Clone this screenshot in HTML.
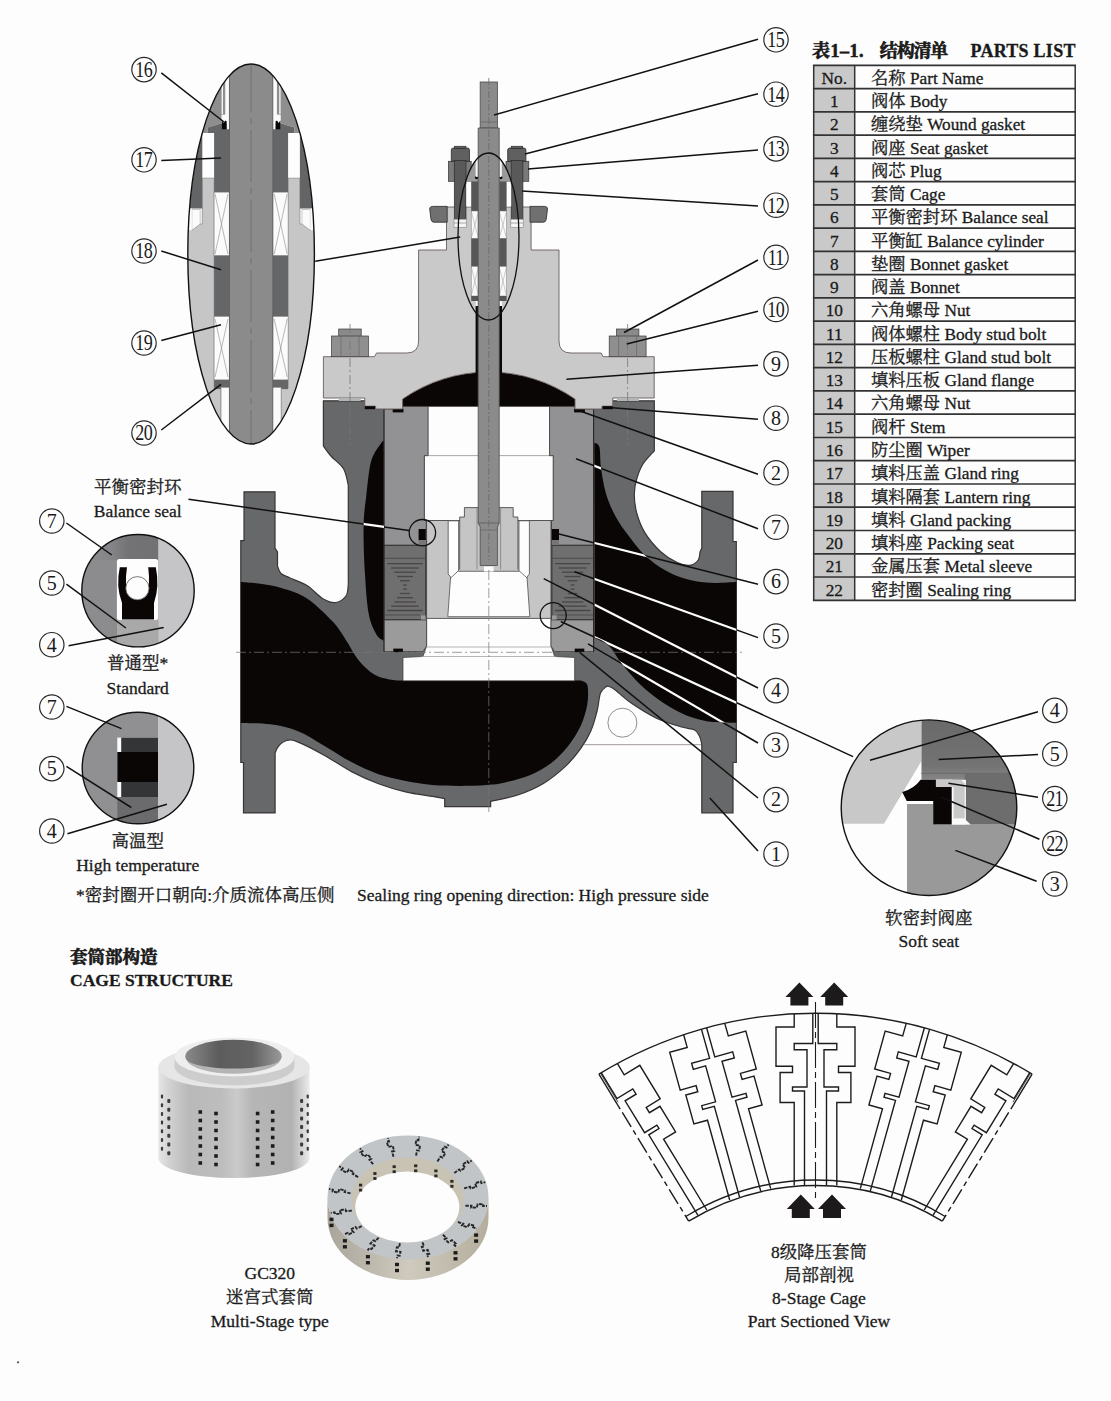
<!DOCTYPE html>
<html lang="zh">
<head>
<meta charset="utf-8">
<title>Parts List / Cage Structure</title>
<style>
html,body{margin:0;padding:0;background:#fdfdfd;}
body{width:1111px;height:1401px;overflow:hidden;position:relative;font-family:"Liberation Serif", "Noto Serif CJK SC", serif;}
svg{position:absolute;left:0;top:0;display:block;}
svg text{font-family:"Liberation Serif", "Noto Serif CJK SC", serif;fill:#1a1a1a;stroke:#1a1a1a;stroke-width:0.3px;}
</style>
</head>
<body>
<svg width="1111" height="1401" viewBox="0 0 1111 1401">
<rect x="0" y="0" width="1111" height="1401" fill="#fdfdfd"/>
<defs>
<g id="blkshapes"><path d="M240.8 582.0C244.3 582.3 255.2 583.0 262.0 584.0C268.8 585.0 273.9 585.6 281.4 588.0C288.9 590.4 298.4 592.8 307.0 598.4C315.6 604.0 326.3 614.8 332.7 621.6C339.1 628.5 341.3 633.1 345.6 639.5C349.9 645.9 353.7 654.2 358.4 660.0C363.1 665.8 368.6 671.0 373.8 674.2C379.0 677.4 384.4 678.3 389.3 679.4C394.2 680.5 401.0 680.4 403.4 680.6L581.0 680.6C581.9 681.1 585.3 681.9 586.5 683.5C587.7 685.1 587.9 686.3 588.0 690.0C588.1 693.7 588.3 699.6 587.1 705.6C585.9 711.6 583.9 719.1 580.8 725.8C577.6 732.5 573.2 739.7 568.2 746.0C563.2 752.3 556.9 758.8 550.6 763.6C544.3 768.4 538.0 771.9 530.4 775.0C522.8 778.1 512.5 780.8 505.2 782.5C497.9 784.2 494.1 784.4 486.5 785.0C478.9 785.6 468.5 785.9 459.5 785.9C450.5 785.9 441.5 785.8 432.5 785.0C423.5 784.2 414.5 782.8 405.5 781.0C396.5 779.2 387.5 777.4 378.5 774.3C369.5 771.1 360.5 766.8 351.5 762.1C342.5 757.4 333.5 751.1 324.5 745.9C315.5 740.7 306.5 734.6 297.5 731.0C288.5 727.4 279.9 725.6 270.5 724.3C261.1 723.0 245.8 723.2 240.8 723.0Z"/><path d="M384.0 441.0C383.6 441.3 383.4 439.7 381.3 443.0C379.2 446.3 373.7 452.1 371.2 461.0C368.7 469.9 367.5 485.4 366.2 496.4C364.9 507.3 363.8 514.0 363.6 526.7C363.4 539.4 364.0 558.2 364.9 572.7C365.8 587.2 366.8 603.5 368.7 613.8C370.6 624.1 373.8 629.9 376.4 634.4C378.9 638.9 382.7 639.7 384.0 640.8Z"/><path d="M594.3 442.7C595.1 443.4 598.3 442.8 599.4 447.0C600.5 451.2 599.9 460.0 601.0 467.8C602.1 475.6 603.6 485.6 606.0 493.7C608.4 501.8 611.8 509.4 615.6 516.4C619.4 523.4 623.7 529.3 628.6 535.8C633.5 542.3 638.8 549.6 644.8 555.3C650.8 561.0 657.5 565.9 664.3 569.8C671.0 573.7 677.8 576.6 685.3 578.8C692.8 581.0 701.1 582.3 709.6 582.8C718.1 583.3 731.8 582.1 736.3 582.0L736.3 722.7C731.4 722.5 715.9 722.8 706.8 721.2C697.7 719.6 690.0 717.1 681.6 713.2C673.2 709.3 664.0 703.5 656.4 698.0C648.8 692.5 642.1 686.3 636.2 680.4C630.3 674.5 625.3 668.2 621.1 662.8C616.9 657.4 614.0 651.6 611.0 648.0C608.0 644.4 605.7 642.7 603.0 641.0C600.3 639.3 596.1 638.2 594.7 637.6Z"/><path d="M402.6 399A151 151 0 0 1 575 399L575 406.4L402.6 406.4Z"/><rect x="476" y="318" width="25.6" height="56"/></g>
<clipPath id="blkclip"><path d="M240.8 582.0C244.3 582.3 255.2 583.0 262.0 584.0C268.8 585.0 273.9 585.6 281.4 588.0C288.9 590.4 298.4 592.8 307.0 598.4C315.6 604.0 326.3 614.8 332.7 621.6C339.1 628.5 341.3 633.1 345.6 639.5C349.9 645.9 353.7 654.2 358.4 660.0C363.1 665.8 368.6 671.0 373.8 674.2C379.0 677.4 384.4 678.3 389.3 679.4C394.2 680.5 401.0 680.4 403.4 680.6L581.0 680.6C581.9 681.1 585.3 681.9 586.5 683.5C587.7 685.1 587.9 686.3 588.0 690.0C588.1 693.7 588.3 699.6 587.1 705.6C585.9 711.6 583.9 719.1 580.8 725.8C577.6 732.5 573.2 739.7 568.2 746.0C563.2 752.3 556.9 758.8 550.6 763.6C544.3 768.4 538.0 771.9 530.4 775.0C522.8 778.1 512.5 780.8 505.2 782.5C497.9 784.2 494.1 784.4 486.5 785.0C478.9 785.6 468.5 785.9 459.5 785.9C450.5 785.9 441.5 785.8 432.5 785.0C423.5 784.2 414.5 782.8 405.5 781.0C396.5 779.2 387.5 777.4 378.5 774.3C369.5 771.1 360.5 766.8 351.5 762.1C342.5 757.4 333.5 751.1 324.5 745.9C315.5 740.7 306.5 734.6 297.5 731.0C288.5 727.4 279.9 725.6 270.5 724.3C261.1 723.0 245.8 723.2 240.8 723.0Z"/><path d="M384.0 441.0C383.6 441.3 383.4 439.7 381.3 443.0C379.2 446.3 373.7 452.1 371.2 461.0C368.7 469.9 367.5 485.4 366.2 496.4C364.9 507.3 363.8 514.0 363.6 526.7C363.4 539.4 364.0 558.2 364.9 572.7C365.8 587.2 366.8 603.5 368.7 613.8C370.6 624.1 373.8 629.9 376.4 634.4C378.9 638.9 382.7 639.7 384.0 640.8Z"/><path d="M594.3 442.7C595.1 443.4 598.3 442.8 599.4 447.0C600.5 451.2 599.9 460.0 601.0 467.8C602.1 475.6 603.6 485.6 606.0 493.7C608.4 501.8 611.8 509.4 615.6 516.4C619.4 523.4 623.7 529.3 628.6 535.8C633.5 542.3 638.8 549.6 644.8 555.3C650.8 561.0 657.5 565.9 664.3 569.8C671.0 573.7 677.8 576.6 685.3 578.8C692.8 581.0 701.1 582.3 709.6 582.8C718.1 583.3 731.8 582.1 736.3 582.0L736.3 722.7C731.4 722.5 715.9 722.8 706.8 721.2C697.7 719.6 690.0 717.1 681.6 713.2C673.2 709.3 664.0 703.5 656.4 698.0C648.8 692.5 642.1 686.3 636.2 680.4C630.3 674.5 625.3 668.2 621.1 662.8C616.9 657.4 614.0 651.6 611.0 648.0C608.0 644.4 605.7 642.7 603.0 641.0C600.3 639.3 596.1 638.2 594.7 637.6Z"/><path d="M402.6 399A151 151 0 0 1 575 399L575 406.4L402.6 406.4Z"/><rect x="476" y="318" width="25.6" height="56"/></clipPath>
<clipPath id="ell2clip"><ellipse cx="488.5" cy="236.5" rx="30.5" ry="83.5"/></clipPath>
</defs>
<g id="valve">
<circle cx="622.4" cy="722.7" r="14.5" fill="none" stroke="#7a7070" stroke-width="0.8"/>
<line x1="584" y1="744.7" x2="702" y2="744.7" stroke="#8a8080" stroke-width="0.8"/>
<path d="M323.4 400.8L654.3 400.8L654.3 450.8C652.4 453.0 645.9 459.5 643.0 464.0C640.1 468.5 638.5 473.1 637.0 478.0C635.5 482.9 634.3 487.9 634.3 493.7C634.2 499.5 635.0 506.5 636.7 513.0C638.5 519.5 640.8 526.1 644.8 532.6C648.8 539.1 655.6 547.0 661.0 552.0C666.4 557.0 672.4 560.4 677.2 562.6C682.0 564.8 686.5 565.7 690.0 565.3C693.5 564.9 696.6 562.2 698.3 560.0C700.0 557.8 699.7 553.3 700.0 552.0L701.8 548.0L701.8 491.3L733.0 491.3L733.0 541.5L736.3 541.5L736.3 762.5L733.0 762.5L733.0 812.8L701.8 812.8L701.8 744.0C701.4 742.6 700.6 738.2 699.3 735.8C698.0 733.4 697.2 731.3 694.2 729.8C691.2 728.3 687.9 728.9 681.6 727.0C675.3 725.1 664.8 722.2 656.4 718.2C648.0 714.2 638.3 708.0 631.2 703.1C624.1 698.2 618.0 691.9 614.0 689.0C610.0 686.1 608.2 686.5 607.0 686.0C605.9 687.2 602.1 688.9 600.5 693.0C598.9 697.1 598.8 704.3 597.2 710.6C595.6 716.9 593.6 724.5 590.9 730.8C588.2 737.1 585.0 742.5 580.8 748.4C576.6 754.3 572.0 760.2 565.7 766.1C559.4 772.0 551.0 778.9 543.0 783.7C535.0 788.5 526.5 792.0 517.8 795.0C509.1 798.0 495.1 800.3 490.6 801.4L490.6 806.7L444.7 806.7L444.7 798.6C442.7 798.2 439.0 797.5 432.5 796.4C426.0 795.3 414.5 793.9 405.5 791.8C396.5 789.7 387.5 787.1 378.5 783.7C369.5 780.3 360.5 776.3 351.5 771.6C342.5 766.9 333.5 760.4 324.5 755.4C315.5 750.4 303.8 744.4 297.5 741.9C291.2 739.4 289.8 739.8 286.7 740.5C283.6 741.2 280.5 743.9 278.6 746.0C276.7 748.1 275.7 751.8 275.1 753.0L275.1 812.9L243.5 812.9L243.5 762.5L240.8 762.5L240.8 540.6L244.0 540.6L244.0 491.8L275.0 491.8L275.0 548.0L277.5 552.0L277.5 566.0C278.1 567.2 278.9 571.5 281.0 573.5C283.1 575.5 285.7 576.0 290.0 578.0C294.3 580.0 301.6 582.2 307.0 585.6C312.4 589.0 317.8 595.6 322.5 598.4C327.2 601.2 331.4 602.9 335.3 602.5C339.2 602.1 343.8 598.9 346.0 596.0C348.2 593.1 347.9 586.8 348.3 585.0L348.3 485.0C347.5 482.3 346.4 473.5 343.5 468.7C340.6 463.9 334.2 459.8 330.9 456.0C327.5 452.2 324.6 447.7 323.4 446.0Z" fill="#67686a" stroke="#393535" stroke-width="1.2"/>
<use href="#blkshapes" fill="#0b0606"/>
<path d="M428.0 406.4L428.0 455.6L424.3 455.6L424.3 520.5L426.6 520.5L426.6 646.0L423.0 656.5L403.0 657.5L403.0 680.8L574.6 680.8L574.6 657.5L554.6 656.5L551.0 646.0L551.0 520.5L553.3 520.5L553.3 455.6L549.6 455.6L549.6 406.4Z" fill="#fdfdfd" stroke="#3e3a3a" stroke-width="0.7"/>
<line x1="424.3" y1="455.6" x2="553.3" y2="455.6" stroke="#8a8484" stroke-width="0.7"/>
<line x1="424.3" y1="520.5" x2="553.3" y2="520.5" stroke="#8a8484" stroke-width="0.7"/>
<line x1="423" y1="647" x2="554.6" y2="647" stroke="#9a9494" stroke-width="0.7"/>
<line x1="421" y1="656.5" x2="556.6" y2="656.5" stroke="#9a9494" stroke-width="0.7"/>
<g id="cageL">
<path d="M384 409L402.6 409L402.6 406.4L428 406.4L428 455.6L424.3 455.6L424.3 520.5L426.2 520.5L426.2 545L384 545Z" fill="#929295" stroke="#3e3a3a" stroke-width="0.7"/>
<rect x="392.7" y="409" width="10.8" height="3.4" fill="#0b0606"/>
<rect x="418.6" y="529" width="7.2" height="11" fill="#0b0606"/>
<rect x="418.6" y="540" width="7.2" height="5" fill="#777"/>
<rect x="384" y="545.5" width="41.6" height="74" fill="#6f6f6f" stroke="#3a3434" stroke-width="0.8"/>
<line x1="387.3" y1="563.7" x2="422.7" y2="563.7" stroke="#484545" stroke-width="1.3"/>
<line x1="391.1" y1="568.0" x2="418.9" y2="568.0" stroke="#484545" stroke-width="1.3"/>
<line x1="394.3" y1="572.2" x2="415.7" y2="572.2" stroke="#484545" stroke-width="1.3"/>
<line x1="397.0" y1="576.5" x2="413.0" y2="576.5" stroke="#484545" stroke-width="1.3"/>
<line x1="400.2" y1="580.7" x2="409.8" y2="580.7" stroke="#484545" stroke-width="1.3"/>
<line x1="403.2" y1="585.0" x2="406.8" y2="585.0" stroke="#484545" stroke-width="1.3"/>
<line x1="403.2" y1="589.2" x2="406.8" y2="589.2" stroke="#484545" stroke-width="1.3"/>
<line x1="400.2" y1="593.5" x2="409.8" y2="593.5" stroke="#484545" stroke-width="1.3"/>
<line x1="397.0" y1="597.7" x2="413.0" y2="597.7" stroke="#484545" stroke-width="1.3"/>
<line x1="394.3" y1="602.0" x2="415.7" y2="602.0" stroke="#484545" stroke-width="1.3"/>
<line x1="391.1" y1="606.2" x2="418.9" y2="606.2" stroke="#484545" stroke-width="1.3"/>
<line x1="387.3" y1="610.5" x2="422.7" y2="610.5" stroke="#484545" stroke-width="1.3"/>
<line x1="384.5" y1="558.3" x2="425.3" y2="558.3" stroke="#504c4c" stroke-width="1"/>
<line x1="384.5" y1="615" x2="420" y2="615" stroke="#504c4c" stroke-width="1"/>
<rect x="421" y="615.5" width="4.6" height="4.5" fill="#9b9b9b"/>
<path d="M384 620L426.6 620L426.6 646L423 651.5L384 651.5Z" fill="#9b9b9b" stroke="#3e3a3a" stroke-width="0.7"/>
<rect x="393.3" y="648.6" width="9.6" height="3.6" fill="#0b0606"/>
<line x1="384" y1="409" x2="384" y2="652" stroke="#2a2424" stroke-width="1"/>
</g>
<use href="#cageL" transform="translate(977.6,0) scale(-1,1)"/>
<g id="plug">
<path d="M426.6 520.5L459.7 520.5L459.7 517L464.4 517L464.4 507.6L513.2 507.6L513.2 517L517.9 517L517.9 520.5L551 520.5L551 618.4L426.6 618.4Z" fill="#c5c5c5" stroke="#3e3a3a" stroke-width="0.8"/>
<path d="M458.6 571.3L458.6 520.8L448.2 520.8L448.2 574.0L450.6 577.0L447.8 616.7L529.8 616.7L527.0 577.0L529.4 574.0L529.4 520.8L519.0 520.8L519.0 571.3Z" fill="#fdfdfd" stroke="#3e3a3a" stroke-width="0.7"/>
<path d="M458.6 570.6L450.4 578.2M519 570.6L527.2 578.2" stroke="#3e3a3a" stroke-width="0.7" fill="none"/>
<line x1="459.7" y1="520.5" x2="459.7" y2="569.5" stroke="#3e3a3a" stroke-width="0.7"/>
<line x1="517.9" y1="520.5" x2="517.9" y2="569.5" stroke="#3e3a3a" stroke-width="0.7"/>
<line x1="477" y1="507.6" x2="477" y2="569.5" stroke="#7a7474" stroke-width="0.7"/>
<line x1="500.6" y1="507.6" x2="500.6" y2="569.5" stroke="#7a7474" stroke-width="0.7"/>
<rect x="484" y="566.5" width="9.6" height="5" fill="#fdfdfd"/>
</g>
<circle cx="422.4" cy="532.7" r="13.2" fill="none" stroke="#111" stroke-width="1.3"/>
<circle cx="553.2" cy="615.6" r="13" fill="none" stroke="#111" stroke-width="1.3"/>
<path d="M488.8 207L446.5 207L446.5 250L418.6 250L418.6 341Q418.6 353 406.6 353L376.5 353L374.5 356.7L323.4 356.7L323.4 398L364.8 398L364.8 406.2L375.6 406.2L375.6 409L402.6 409L402.6 399A151 151 0 0 1 575 399L575 409L602 409L602 406.2L612.8 406.2L612.8 398L654.2 398L654.2 356.7L603.1 356.7L601.1 353L571 353Q559 353 559 341L559 250L531.1 250L531.1 207Z" fill="#c9c9c9" stroke="#6a5c5c" stroke-width="0.9"/>
<rect x="364.8" y="406.2" width="10.2" height="3" fill="#0b0606"/>
<rect x="602.6" y="406.2" width="10.2" height="3" fill="#0b0606"/>
<g id="bnutL">
<rect x="338.7" y="329" width="22.5" height="8" fill="#8a8a8a" stroke="#3e3a3a" stroke-width="0.7"/>
<rect x="331.5" y="336" width="36.9" height="20.7" fill="#8f8f8f" stroke="#3e3a3a" stroke-width="0.7"/>
<line x1="341" y1="336" x2="341" y2="356.7" stroke="#6a6464" stroke-width="0.7"/>
<line x1="359" y1="336" x2="359" y2="356.7" stroke="#6a6464" stroke-width="0.7"/>
<rect x="338.7" y="398" width="22" height="3" fill="#b5b5b5"/>
<line x1="350" y1="324" x2="350" y2="446" stroke="#777" stroke-width="0.8" stroke-dasharray="9 3 2 3"/>
</g>
<use href="#bnutL" transform="translate(977.6,0) scale(-1,1)"/>
<g id="glandL">
<path d="M429.7 209Q429.7 206.4 432.5 206.4L447.2 206.4L447.2 222.2L434 222.2Q431.5 222.2 431 219.5Z" fill="#707070" stroke="#3a3434" stroke-width="0.9"/>
<rect x="448.4" y="161.3" width="22.8" height="20" fill="#7a7a7a" stroke="#3a3434" stroke-width="0.7"/>
<path d="M451.3 161.3L451.3 150Q451.3 148 453.5 148L467.3 148Q469.5 148 469.5 150L469.5 161.3Z" fill="#606060" stroke="#2f2a2a" stroke-width="0.8"/>
<rect x="454.5" y="146.2" width="11.5" height="2.2" fill="#5a5a5a" stroke="#2f2a2a" stroke-width="0.6"/>
<rect x="454.3" y="160.5" width="11.7" height="58.7" fill="#595959" stroke="#2f2a2a" stroke-width="0.7"/>
<rect x="454" y="219.2" width="12.4" height="8.2" fill="#f4f4f4" stroke="#8a8484" stroke-width="0.6"/>
<line x1="454" y1="223" x2="466.4" y2="223" stroke="#8a8484" stroke-width="0.7"/>
</g>
<use href="#glandL" transform="translate(977.2,0) scale(-1,1)"/>
<g clip-path="url(#ell2clip)">
<rect x="466" y="150" width="45.6" height="32" fill="#9a9a9a"/>
<rect x="475.6" y="150" width="2.6" height="27" fill="#f6f6f6"/>
<rect x="499.2" y="150" width="2.6" height="27" fill="#f6f6f6"/>
<circle cx="476.6" cy="177.6" r="1.7" fill="#0b0606"/><circle cx="476.9" cy="176.2" r="0.9" fill="#f6f6f6"/>
<circle cx="500.8" cy="177.6" r="1.7" fill="#0b0606"/><circle cx="500.5" cy="176.2" r="0.9" fill="#f6f6f6"/>
<rect x="466.4" y="184" width="4.8" height="22.4" fill="#fdfdfd"/>
<rect x="506.4" y="184" width="4.8" height="22.4" fill="#fdfdfd"/>
<rect x="471.2" y="181.5" width="7.4" height="29.5" fill="#565656"/>
<rect x="471.2" y="211" width="7.4" height="27.5" fill="#fafafa" stroke="#777" stroke-width="0.5"/>
<path d="M471.2 211L478.59999999999997 238.5M478.59999999999997 211L471.2 238.5" stroke="#999" stroke-width="0.5" fill="none"/>
<rect x="471.2" y="238.5" width="7.4" height="28" fill="#565656"/>
<rect x="471.2" y="266.5" width="7.4" height="29.5" fill="#fafafa" stroke="#777" stroke-width="0.5"/>
<path d="M471.2 266.5L478.59999999999997 296M478.59999999999997 266.5L471.2 296" stroke="#999" stroke-width="0.5" fill="none"/>
<rect x="471.2" y="296" width="7.4" height="5" fill="#565656"/>
<rect x="499.2" y="181.5" width="7.4" height="29.5" fill="#565656"/>
<rect x="499.2" y="211" width="7.4" height="27.5" fill="#fafafa" stroke="#777" stroke-width="0.5"/>
<path d="M499.2 211L506.59999999999997 238.5M506.59999999999997 211L499.2 238.5" stroke="#999" stroke-width="0.5" fill="none"/>
<rect x="499.2" y="238.5" width="7.4" height="28" fill="#565656"/>
<rect x="499.2" y="266.5" width="7.4" height="29.5" fill="#fafafa" stroke="#777" stroke-width="0.5"/>
<path d="M499.2 266.5L506.59999999999997 296M506.59999999999997 266.5L499.2 296" stroke="#999" stroke-width="0.5" fill="none"/>
<rect x="499.2" y="296" width="7.4" height="5" fill="#565656"/>
<rect x="475.8" y="301" width="2.6" height="8" fill="#fdfdfd"/>
<rect x="499.2" y="301" width="2.6" height="8" fill="#fdfdfd"/>
</g>
<rect x="475.6" y="306" width="26.4" height="68" fill="#0b0606"/>
<rect x="480.2" y="82" width="17.2" height="46" fill="#8b8b8b" stroke="#555" stroke-width="0.9"/>
<path d="M478.2 128L499.2 128L499.2 523L497.4 527L497.4 565.5L480.2 565.5L480.2 527L478.2 523Z" fill="#8b8b8b" stroke="#555" stroke-width="0.9"/>
<line x1="480.2" y1="122" x2="497.4" y2="122" stroke="#666" stroke-width="0.7"/>
<line x1="478.2" y1="523" x2="499.2" y2="523" stroke="#555" stroke-width="0.7"/>
<line x1="480.2" y1="530" x2="497.4" y2="530" stroke="#666" stroke-width="0.7"/>
<line x1="488.8" y1="78" x2="488.8" y2="560" stroke="#6a6a6a" stroke-width="0.8" stroke-dasharray="7 2 2 2"/>
<ellipse cx="488.5" cy="236.5" rx="30.5" ry="83.5" fill="none" stroke="#111" stroke-width="1.3"/>
<line x1="488.8" y1="570" x2="488.8" y2="812" stroke="#777" stroke-width="0.7" stroke-dasharray="10 3 2 3"/>
<line x1="236" y1="652.3" x2="742" y2="652.3" stroke="#777" stroke-width="0.7" stroke-dasharray="10 3 2 3"/>
</g>
<defs>
<clipPath id="ell1clip"><ellipse cx="251.1" cy="254" rx="63.3" ry="190"/></clipPath>
<clipPath id="c1clip"><circle cx="138" cy="590.7" r="56.2"/></clipPath>
<clipPath id="c2clip"><circle cx="138" cy="768" r="55.8"/></clipPath>
<clipPath id="c3clip"><circle cx="929" cy="807.7" r="87.8"/></clipPath>
<linearGradient id="d1g" x1="0" x2="1" y1="0" y2="0"><stop offset="0" stop-color="#8c8c8e"/><stop offset="0.25" stop-color="#86868a"/><stop offset="0.4" stop-color="#737375"/><stop offset="1" stop-color="#6f6f71"/></linearGradient>
<linearGradient id="cg5" x1="0" x2="0" y1="0" y2="1"><stop offset="0" stop-color="#696969"/><stop offset="0.45" stop-color="#737373"/><stop offset="0.58" stop-color="#868686"/><stop offset="1" stop-color="#868686"/></linearGradient>
</defs>
<g id="packingdetail">
<g clip-path="url(#ell1clip)">
<rect x="180" y="60" width="145" height="390" fill="#fdfdfd"/>
<g id="pkL">
<path d="M180 230.3L191.8 230.3L200.2 224L202.3 224L202.3 178.2L214.1 178.2L214.1 387.6L221 387.6L221 450L180 450Z" fill="#c6c6c6" stroke="#8a8484" stroke-width="0.7"/>
<path d="M191.8 209.5L200.2 209.5L200.2 224L191.8 230.3Z" fill="#fbfbfb" stroke="#999" stroke-width="0.5"/>
<path d="M180 60L225.4 60L225.4 114.8L221.7 114.8L221.7 123.2L207.8 127.4L207.8 133L180 133Z" fill="#8e8e8e"/>
<rect x="221.6" y="60" width="1.4" height="54" fill="#f4f4f4"/>
<rect x="225.6" y="60" width="3.8" height="62" fill="#fbfbfb"/>
<rect x="221.7" y="114.8" width="7" height="6" fill="#fbfbfb"/>
<rect x="180" y="133" width="22.3" height="75.5" fill="#626466"/>
<rect x="180" y="208.5" width="11.8" height="22" fill="#fbfbfb"/>
<path d="M207.8 127.4L221.7 123.2L229.4 123.2L229.4 192.2L214.1 192.2L214.1 133L207.8 133Z" fill="#646668"/>
<path d="M221.9 120.6L223.6 123L225.2 120.6L226.8 121.5L226.8 129.3L221.9 129.3Z" fill="#0b0606"/>
<path d="M226.8 122L229.4 118L229.4 129.3L226.8 129.3Z" fill="#fbfbfb"/>
<rect x="214.1" y="192.2" width="15.3" height="63.4" fill="#fbfbfb" stroke="#8a8484" stroke-width="0.6"/>
<path d="M215 194L228 254M228 194L215 254" stroke="#8a8a8a" stroke-width="0.6" fill="none"/>
<rect x="214.1" y="255.6" width="15.3" height="61.3" fill="#646668"/>
<rect x="214.1" y="316.4" width="15.3" height="63.5" fill="#fbfbfb" stroke="#8a8484" stroke-width="0.6"/>
<path d="M215 319L228 377M228 319L215 377" stroke="#8a8a8a" stroke-width="0.6" fill="none"/>
<rect x="214.1" y="379.9" width="15.3" height="9.2" fill="#646668"/>
<rect x="221" y="387.6" width="8.4" height="62" fill="#fbfbfb"/>
<line x1="221" y1="387.6" x2="221" y2="450" stroke="#8a8484" stroke-width="0.7"/>
</g>
<use href="#pkL" transform="translate(502.2,0) scale(-1,1)"/>
<rect x="229.4" y="60" width="43.4" height="390" fill="#8b8b8b" stroke="#5a5a5a" stroke-width="0.9"/>
<line x1="251.1" y1="60" x2="251.1" y2="450" stroke="#6f6f6f" stroke-width="0.9" stroke-dasharray="52 6 6 6"/>
</g>
<ellipse cx="251.1" cy="254" rx="63.3" ry="190" fill="none" stroke="#111" stroke-width="1.4"/>
</g>
<g id="detail1">
<g clip-path="url(#c1clip)">
<rect x="80" y="530" width="120" height="120" fill="#8c8c8e"/>
<rect x="80" y="530" width="120" height="30" fill="url(#d1g)"/>
<rect x="158.2" y="530" width="40" height="120" fill="#c5c5c7"/>
<rect x="117" y="619" width="41.2" height="30" fill="#a9a9a9"/>
<rect x="116.9" y="559" width="41.2" height="61" rx="2.5" fill="#fdfdfd"/>
<path d="M119.8 567.3L127 567.3Q124.3 585 128.3 595.5A11.9 11.9 0 0 0 146.5 595.5Q150.5 585 148.2 567.3L155.8 567.3Q159.8 586 154 603L154 619.5L122 619.5L122 603Q115.6 586 119.8 567.3Z" fill="#0b0606"/>
<circle cx="137.4" cy="588.2" r="11.6" fill="#fdfdfd" stroke="#555" stroke-width="0.8"/>
</g>
<circle cx="138" cy="590.7" r="56.2" fill="none" stroke="#111" stroke-width="1.4"/>
</g>
<g id="detail2">
<g clip-path="url(#c2clip)">
<rect x="80" y="710" width="120" height="120" fill="#909092"/>
<rect x="158" y="710" width="40" height="120" fill="#c5c5c7"/>
<rect x="117.3" y="797" width="40.7" height="30" fill="#6b6b6d"/>
<rect x="117.3" y="737.6" width="40.7" height="59.4" fill="#fbfbfb"/>
<rect x="121.2" y="737.6" width="36.8" height="59.4" fill="#343536"/>
<rect x="117.3" y="752" width="40.7" height="30" fill="#0b0606"/>
</g>
<circle cx="138" cy="768" r="55.8" fill="none" stroke="#111" stroke-width="1.4"/>
</g>
<g id="softseat">
<g clip-path="url(#c3clip)">
<rect x="838" y="718" width="182" height="180" fill="#fdfdfd"/>
<path d="M838 718L921.5 718L921.5 761L884 823.8L838 823.8Z" fill="#c8c8c8"/>
<path d="M921.5 718L1020 718L1020 824.4L952.6 824.4L952.6 779.8L921.5 779.8Z" fill="url(#cg5)"/>
<path d="M964.7 773.4L1020 773.4L1020 824.4L970.5 824.4L964.7 818.8Z" fill="#6d6d6d"/>
<line x1="921" y1="773.4" x2="1020" y2="773.4" stroke="#666" stroke-width="0.7"/>
<path d="M907 804L933.2 804L933.2 824.4L1020 824.4L1020 900L907 900Z" fill="#999999"/>
<rect x="935.9" y="779.8" width="30" height="44.6" fill="#fbfbfb"/>
<path d="M935.9 779.8L961 779.8L964.7 783.5L964.7 818.5L953.6 818.5L953.6 787L935.9 787Z" fill="#c9c9c9"/>
<path d="M951.7 818.8L964.7 818.8L970.5 824.4L951.7 824.4Z" fill="#fbfbfb"/>
<path d="M902.2 792Q914 789 920.6 779.8L935.9 779.8L935.9 787L951.7 787L951.7 824.4L933.2 824.4L933.2 801L906.7 801Z" fill="#0b0606"/>
</g>
<circle cx="929" cy="807.7" r="87.8" fill="none" stroke="#111" stroke-width="1.4"/>
</g>
<defs>
<linearGradient id="cylg" x1="0" x2="1" y1="0" y2="0"><stop offset="0" stop-color="#e6e6e6"/><stop offset="0.07" stop-color="#d2d2d2"/><stop offset="0.2" stop-color="#b9b9b9"/><stop offset="0.42" stop-color="#bdbdbd"/><stop offset="0.52" stop-color="#cacaca"/><stop offset="0.62" stop-color="#b6b6b6"/><stop offset="0.88" stop-color="#b2b2b2"/><stop offset="0.96" stop-color="#d8d8d8"/><stop offset="1" stop-color="#ececec"/></linearGradient>
<linearGradient id="holeg" x1="0" x2="1" y1="0" y2="0"><stop offset="0" stop-color="#8a8a8a"/><stop offset="0.35" stop-color="#5c5c5c"/><stop offset="0.7" stop-color="#646464"/><stop offset="1" stop-color="#9a9a9a"/></linearGradient>
<linearGradient id="ringwall" x1="0" x2="1" y1="0" y2="0"><stop offset="0" stop-color="#a9a59b"/><stop offset="0.5" stop-color="#cfcabd"/><stop offset="1" stop-color="#b5ae9e"/></linearGradient>
<filter id="soft" x="-5%" y="-5%" width="110%" height="110%"><feGaussianBlur stdDeviation="0.7"/></filter>
</defs>
<g id="cylinder" filter="url(#soft)">
<path d="M158.4 1066L158.4 1158A75.6 20 0 0 0 309.6 1158L309.6 1066Z" fill="url(#cylg)"/>
<ellipse cx="234" cy="1067" rx="75.6" ry="21.5" fill="#e6e6e6"/>
<path d="M174.4 1057L174.4 1066A60 19.4 0 0 0 294.5 1066L294.5 1057Z" fill="#cdcdcd"/>
<ellipse cx="234.4" cy="1057" rx="60" ry="19.4" fill="#eeeeee"/>
<ellipse cx="233.5" cy="1056.3" rx="48.2" ry="16.5" fill="url(#holeg)"/>
<path d="M186.5 1060A47.5 16 0 0 0 280.5 1060A47.5 10 0 0 1 186.5 1060Z" fill="#b4b4b4"/>
<rect x="198.5" y="1110.2" width="3.6" height="3.6" fill="#1e1e1e"/>
<rect x="198.5" y="1118.7" width="3.6" height="3.6" fill="#1e1e1e"/>
<rect x="198.5" y="1127.2" width="3.6" height="3.6" fill="#1e1e1e"/>
<rect x="198.5" y="1135.7" width="3.6" height="3.6" fill="#1e1e1e"/>
<rect x="198.5" y="1144.2" width="3.6" height="3.6" fill="#1e1e1e"/>
<rect x="198.5" y="1152.7" width="3.6" height="3.6" fill="#1e1e1e"/>
<rect x="198.5" y="1161.2" width="3.6" height="3.6" fill="#1e1e1e"/>
<rect x="214.2" y="1111.7" width="3.6" height="3.6" fill="#1e1e1e"/>
<rect x="214.2" y="1120.2" width="3.6" height="3.6" fill="#1e1e1e"/>
<rect x="214.2" y="1128.7" width="3.6" height="3.6" fill="#1e1e1e"/>
<rect x="214.2" y="1137.2" width="3.6" height="3.6" fill="#1e1e1e"/>
<rect x="214.2" y="1145.7" width="3.6" height="3.6" fill="#1e1e1e"/>
<rect x="214.2" y="1154.2" width="3.6" height="3.6" fill="#1e1e1e"/>
<rect x="214.2" y="1162.7" width="3.6" height="3.6" fill="#1e1e1e"/>
<rect x="255.8" y="1111.7" width="3.6" height="3.6" fill="#1e1e1e"/>
<rect x="255.8" y="1120.2" width="3.6" height="3.6" fill="#1e1e1e"/>
<rect x="255.8" y="1128.7" width="3.6" height="3.6" fill="#1e1e1e"/>
<rect x="255.8" y="1137.2" width="3.6" height="3.6" fill="#1e1e1e"/>
<rect x="255.8" y="1145.7" width="3.6" height="3.6" fill="#1e1e1e"/>
<rect x="255.8" y="1154.2" width="3.6" height="3.6" fill="#1e1e1e"/>
<rect x="255.8" y="1162.7" width="3.6" height="3.6" fill="#1e1e1e"/>
<rect x="270.9" y="1110.2" width="3.6" height="3.6" fill="#1e1e1e"/>
<rect x="270.9" y="1118.7" width="3.6" height="3.6" fill="#1e1e1e"/>
<rect x="270.9" y="1127.2" width="3.6" height="3.6" fill="#1e1e1e"/>
<rect x="270.9" y="1135.7" width="3.6" height="3.6" fill="#1e1e1e"/>
<rect x="270.9" y="1144.2" width="3.6" height="3.6" fill="#1e1e1e"/>
<rect x="270.9" y="1152.7" width="3.6" height="3.6" fill="#1e1e1e"/>
<rect x="270.9" y="1161.2" width="3.6" height="3.6" fill="#1e1e1e"/>
<rect x="160.9" y="1094.5" width="2.2" height="4" rx="1" fill="#3a3a3a"/>
<rect x="160.9" y="1103.2" width="2.2" height="4" rx="1" fill="#3a3a3a"/>
<rect x="160.9" y="1111.9" width="2.2" height="4" rx="1" fill="#3a3a3a"/>
<rect x="160.9" y="1120.6" width="2.2" height="4" rx="1" fill="#3a3a3a"/>
<rect x="160.9" y="1129.3" width="2.2" height="4" rx="1" fill="#3a3a3a"/>
<rect x="160.9" y="1138.0" width="2.2" height="4" rx="1" fill="#3a3a3a"/>
<rect x="160.9" y="1146.7" width="2.2" height="4" rx="1" fill="#3a3a3a"/>
<rect x="167.3" y="1099.0" width="3" height="4" rx="1" fill="#3a3a3a"/>
<rect x="167.3" y="1107.7" width="3" height="4" rx="1" fill="#3a3a3a"/>
<rect x="167.3" y="1116.4" width="3" height="4" rx="1" fill="#3a3a3a"/>
<rect x="167.3" y="1125.1" width="3" height="4" rx="1" fill="#3a3a3a"/>
<rect x="167.3" y="1133.8" width="3" height="4" rx="1" fill="#3a3a3a"/>
<rect x="167.3" y="1142.5" width="3" height="4" rx="1" fill="#3a3a3a"/>
<rect x="167.3" y="1151.2" width="3" height="4" rx="1" fill="#3a3a3a"/>
<rect x="300.1" y="1099.0" width="3" height="4" rx="1" fill="#3a3a3a"/>
<rect x="300.1" y="1107.7" width="3" height="4" rx="1" fill="#3a3a3a"/>
<rect x="300.1" y="1116.4" width="3" height="4" rx="1" fill="#3a3a3a"/>
<rect x="300.1" y="1125.1" width="3" height="4" rx="1" fill="#3a3a3a"/>
<rect x="300.1" y="1133.8" width="3" height="4" rx="1" fill="#3a3a3a"/>
<rect x="300.1" y="1142.5" width="3" height="4" rx="1" fill="#3a3a3a"/>
<rect x="300.1" y="1151.2" width="3" height="4" rx="1" fill="#3a3a3a"/>
<rect x="306.6" y="1094.5" width="2.2" height="4" rx="1" fill="#3a3a3a"/>
<rect x="306.6" y="1103.2" width="2.2" height="4" rx="1" fill="#3a3a3a"/>
<rect x="306.6" y="1111.9" width="2.2" height="4" rx="1" fill="#3a3a3a"/>
<rect x="306.6" y="1120.6" width="2.2" height="4" rx="1" fill="#3a3a3a"/>
<rect x="306.6" y="1129.3" width="2.2" height="4" rx="1" fill="#3a3a3a"/>
<rect x="306.6" y="1138.0" width="2.2" height="4" rx="1" fill="#3a3a3a"/>
<rect x="306.6" y="1146.7" width="2.2" height="4" rx="1" fill="#3a3a3a"/>
</g>
<g id="ring" filter="url(#soft)">
<path d="M327.5 1197A80.5 62 0 0 0 488.5 1197L488.5 1218A80.5 62 0 0 1 327.5 1218Z" fill="url(#ringwall)"/>
<ellipse cx="408" cy="1197.4" rx="80.5" ry="62" fill="#c1c5c7"/>
<ellipse cx="407.5" cy="1200" rx="56" ry="42.5" fill="#c9c3b4"/>
<ellipse cx="407.3" cy="1207" rx="52" ry="35.5" fill="#fdfdfd"/>
<path d="M465.4 1205.7L471.4 1205.8L471.1 1207.5L476.9 1207.6L477.6 1204.1L483.4 1204.2L483.1 1206.0L487.0 1206.0" fill="none" stroke="#262626" stroke-width="1.9" stroke-dasharray="3.4 1.2"/>
<path d="M457.9 1222.0L463.2 1223.8L462.0 1225.4L467.1 1227.2L469.4 1224.1L474.5 1225.9L473.3 1227.4L476.8 1228.7" fill="none" stroke="#262626" stroke-width="1.9" stroke-dasharray="3.4 1.2"/>
<rect x="474.1" y="1233.4" width="4" height="3.4" fill="#1c1c1c"/>
<rect x="474.1" y="1239.4" width="4" height="3.4" fill="#1c1c1c"/>
<path d="M442.9 1234.8L446.5 1238.1L444.7 1239.2L448.2 1242.3L451.9 1240.2L455.5 1243.3L453.6 1244.4L456.0 1246.5" fill="none" stroke="#262626" stroke-width="1.9" stroke-dasharray="3.4 1.2"/>
<rect x="453.5" y="1251.1" width="4" height="3.4" fill="#1c1c1c"/>
<rect x="453.5" y="1257.1" width="4" height="3.4" fill="#1c1c1c"/>
<path d="M422.5 1242.3L424.0 1246.4L421.8 1246.9L423.3 1250.8L427.7 1249.9L429.2 1253.8L427.0 1254.3L428.0 1257.0" fill="none" stroke="#262626" stroke-width="1.9" stroke-dasharray="3.4 1.2"/>
<rect x="425.8" y="1261.5" width="4" height="3.4" fill="#1c1c1c"/>
<rect x="425.8" y="1267.5" width="4" height="3.4" fill="#1c1c1c"/>
<path d="M399.9 1243.3L399.1 1247.5L396.8 1247.3L396.0 1251.3L400.5 1251.8L399.7 1255.8L397.5 1255.6L396.9 1258.3" fill="none" stroke="#262626" stroke-width="1.9" stroke-dasharray="3.4 1.2"/>
<rect x="395.0" y="1262.8" width="4" height="3.4" fill="#1c1c1c"/>
<rect x="395.0" y="1268.8" width="4" height="3.4" fill="#1c1c1c"/>
<path d="M378.6 1237.6L375.5 1241.2L373.5 1240.3L370.5 1243.7L374.5 1245.5L371.5 1249.0L369.5 1248.1L367.5 1250.4" fill="none" stroke="#262626" stroke-width="1.9" stroke-dasharray="3.4 1.2"/>
<rect x="365.9" y="1255.0" width="4" height="3.4" fill="#1c1c1c"/>
<rect x="365.9" y="1261.0" width="4" height="3.4" fill="#1c1c1c"/>
<path d="M361.7 1226.1L356.8 1228.5L355.5 1227.0L350.8 1229.3L353.5 1232.1L348.8 1234.3L347.5 1232.9L344.3 1234.4" fill="none" stroke="#262626" stroke-width="1.9" stroke-dasharray="3.4 1.2"/>
<rect x="342.9" y="1239.1" width="4" height="3.4" fill="#1c1c1c"/>
<rect x="342.9" y="1245.1" width="4" height="3.4" fill="#1c1c1c"/>
<path d="M351.9 1210.6L346.0 1211.2L345.4 1209.5L339.7 1210.1L340.9 1213.5L335.2 1214.2L334.6 1212.4L330.7 1212.9" fill="none" stroke="#262626" stroke-width="1.9" stroke-dasharray="3.4 1.2"/>
<rect x="329.5" y="1217.7" width="4" height="3.4" fill="#1c1c1c"/>
<rect x="329.5" y="1223.7" width="4" height="3.4" fill="#1c1c1c"/>
<path d="M350.6 1193.4L344.6 1192.1L344.9 1190.4L339.1 1189.2L338.4 1192.7L332.6 1191.5L332.9 1189.7L329.0 1188.9" fill="none" stroke="#262626" stroke-width="1.9" stroke-dasharray="3.4 1.2"/>
<path d="M358.1 1177.1L352.8 1174.0L354.0 1172.5L348.9 1169.6L346.6 1172.7L341.5 1169.8L342.7 1168.3L339.2 1166.3" fill="none" stroke="#262626" stroke-width="1.9" stroke-dasharray="3.4 1.2"/>
<rect x="359.0" y="1183.7" width="3.2" height="2.8" fill="#2a2a2a"/>
<rect x="359.0" y="1188.7" width="3.2" height="2.8" fill="#2a2a2a"/>
<path d="M373.1 1164.2L369.5 1159.8L371.3 1158.7L367.8 1154.5L364.1 1156.6L360.5 1152.3L362.4 1151.3L360.0 1148.4" fill="none" stroke="#262626" stroke-width="1.9" stroke-dasharray="3.4 1.2"/>
<rect x="373.3" y="1172.1" width="3.2" height="2.8" fill="#2a2a2a"/>
<rect x="373.3" y="1177.1" width="3.2" height="2.8" fill="#2a2a2a"/>
<path d="M393.5 1156.7L392.0 1151.5L394.2 1151.0L392.7 1146.0L388.3 1146.9L386.8 1141.8L389.0 1141.4L388.0 1138.0" fill="none" stroke="#262626" stroke-width="1.9" stroke-dasharray="3.4 1.2"/>
<rect x="392.6" y="1165.3" width="3.2" height="2.8" fill="#2a2a2a"/>
<rect x="392.6" y="1170.3" width="3.2" height="2.8" fill="#2a2a2a"/>
<path d="M416.1 1155.7L416.9 1150.4L419.2 1150.6L420.0 1145.5L415.5 1145.0L416.3 1139.9L418.5 1140.1L419.1 1136.6" fill="none" stroke="#262626" stroke-width="1.9" stroke-dasharray="3.4 1.2"/>
<rect x="414.1" y="1164.4" width="3.2" height="2.8" fill="#2a2a2a"/>
<rect x="414.1" y="1169.4" width="3.2" height="2.8" fill="#2a2a2a"/>
<path d="M437.4 1161.4L440.5 1156.7L442.5 1157.6L445.5 1153.0L441.5 1151.2L444.5 1146.7L446.5 1147.6L448.5 1144.5" fill="none" stroke="#262626" stroke-width="1.9" stroke-dasharray="3.4 1.2"/>
<rect x="434.3" y="1169.5" width="3.2" height="2.8" fill="#2a2a2a"/>
<rect x="434.3" y="1174.5" width="3.2" height="2.8" fill="#2a2a2a"/>
<path d="M454.3 1172.9L459.2 1169.4L460.5 1170.8L465.2 1167.5L462.5 1164.7L467.2 1161.3L468.5 1162.8L471.7 1160.5" fill="none" stroke="#262626" stroke-width="1.9" stroke-dasharray="3.4 1.2"/>
<rect x="450.3" y="1179.9" width="3.2" height="2.8" fill="#2a2a2a"/>
<rect x="450.3" y="1184.9" width="3.2" height="2.8" fill="#2a2a2a"/>
<path d="M464.1 1188.4L470.0 1186.7L470.6 1188.4L476.3 1186.7L475.1 1183.2L480.8 1181.5L481.4 1183.2L485.3 1182.1" fill="none" stroke="#262626" stroke-width="1.9" stroke-dasharray="3.4 1.2"/>
</g>
<defs>
<clipPath id="secclip"><path d="M598.9 1074.1A415.8 415.8 0 0 1 1032.1 1074.1L942.3 1221.2A243.4 243.4 0 0 0 688.7 1221.2Z"/></clipPath>
</defs>
<g id="sector" fill="none" stroke="#1c1c1c" stroke-width="1.4" stroke-linejoin="miter">
<g clip-path="url(#secclip)">
<path d="M794.2 1013.6L794.2 1027.0L776.0 1027.0L776.0 1066.3L792.5 1066.3L792.5 1072.5L780.1 1072.5L780.1 1102.5L794.2 1102.5L794.2 1185.4M812.8 1013.2L812.8 1043.5L794.2 1043.5L794.2 1049.7L807.0 1049.7L807.0 1087.0L792.5 1087.0L792.5 1091.0L804.5 1091.0L804.5 1185.4M836.8 1013.6L836.8 1027.0L855.0 1027.0L855.0 1066.3L838.5 1066.3L838.5 1072.5L850.9 1072.5L850.9 1102.5L836.8 1102.5L836.8 1185.4M818.2 1013.2L818.2 1043.5L836.8 1043.5L836.8 1049.7L824.0 1049.7L824.0 1087.0L838.5 1087.0L838.5 1091.0L826.5 1091.0L826.5 1185.4"/>
<path d="M683.6 1034.5L687.2 1047.4L669.7 1052.3L680.2 1090.2L696.1 1085.7L697.8 1091.7L685.8 1095.0L693.9 1123.9L707.5 1120.2L729.7 1200.0M701.4 1029.1L709.6 1058.3L691.6 1063.3L693.3 1069.3L705.6 1065.9L715.6 1101.8L701.7 1105.7L702.7 1109.5L714.3 1106.3L739.6 1197.3M724.7 1023.1L728.3 1036.0L745.8 1031.1L756.3 1069.0L740.4 1073.4L742.1 1079.4L754.0 1076.1L762.1 1105.0L748.5 1108.7L770.7 1188.6M706.6 1027.7L714.8 1056.9L732.7 1051.9L734.3 1057.9L722.0 1061.3L732.0 1097.2L746.0 1093.4L747.0 1097.2L735.5 1100.4L760.8 1191.4"/>
<path d="M906.3 1023.1L902.7 1036.0L885.2 1031.1L874.7 1069.0L890.6 1073.4L888.9 1079.4L877.0 1076.1L868.9 1105.0L882.5 1108.7L860.3 1188.6M924.4 1027.7L916.2 1056.9L898.3 1051.9L896.7 1057.9L909.0 1061.3L899.0 1097.2L885.0 1093.4L884.0 1097.2L895.5 1100.4L870.2 1191.4M947.4 1034.5L943.8 1047.4L961.3 1052.3L950.8 1090.2L934.9 1085.7L933.2 1091.7L945.2 1095.0L937.1 1123.9L923.5 1120.2L901.3 1200.0M929.6 1029.1L921.4 1058.3L939.4 1063.3L937.7 1069.3L925.4 1065.9L915.4 1101.8L929.3 1105.7L928.3 1109.5L916.7 1106.3L891.4 1197.3"/>
<path d="M617.3 1063.3L624.2 1074.8L639.8 1065.3L660.2 1098.8L646.2 1107.4L649.4 1112.7L660.0 1106.3L675.6 1131.9L663.6 1139.2L706.8 1210.0M601.2 1072.7L617.0 1098.5L632.8 1088.9L636.1 1094.2L625.1 1100.8L644.6 1132.7L656.9 1125.1L659.0 1128.5L648.8 1134.8L698.0 1215.3"/>
<path d="M1013.7 1063.3L1006.8 1074.8L991.2 1065.3L970.8 1098.8L984.8 1107.4L981.6 1112.7L971.0 1106.3L955.4 1131.9L967.4 1139.2L924.2 1210.0M1029.8 1072.7L1014.0 1098.5L998.2 1088.9L994.9 1094.2L1005.9 1100.8L986.4 1132.7L974.1 1125.1L972.0 1128.5L982.2 1134.8L933.0 1215.3"/>
<path d="M685.8 1216.5A249 249 0 0 1 945.2 1216.5"/>
</g>
<path d="M598.9 1074.1A415.8 415.8 0 0 1 1032.1 1074.1"/>
<path d="M688.7 1221.2A243.4 243.4 0 0 1 942.3 1221.2"/>
<path d="M598.9 1074.1L617.6 1104.8"/>
<path d="M617.6 1104.8L688.7 1221.2" stroke-dasharray="5 4 17 4"/>
<path d="M600.4 1073.2L618.1 1102.2" stroke-width="0.8"/>
<path d="M1032.1 1074.1L1013.4 1104.8"/>
<path d="M1013.4 1104.8L942.3 1221.2" stroke-dasharray="5 4 17 4"/>
<path d="M1030.6 1073.2L1012.9 1102.2" stroke-width="0.8"/>
<path d="M815.5 1002L815.5 1198" stroke-width="1.1" stroke-dasharray="26 4 6 4"/>
</g>
<path d="M799.4 982.4L813.4 996.9L808.4 996.9L808.4 1005.6L790.4 1005.6L790.4 996.9L785.4 996.9Z" fill="#1c1a1a"/>
<path d="M834.2 982.4L848.2 996.9L843.2 996.9L843.2 1005.6L825.2 1005.6L825.2 996.9L820.2 996.9Z" fill="#1c1a1a"/>
<path d="M800.8 1194.6L814.8 1209.1L809.8 1209.1L809.8 1218L791.8 1218L791.8 1209.1L786.8 1209.1Z" fill="#1c1a1a"/>
<path d="M832 1194.6L846 1209.1L841 1209.1L841 1218L823 1218L823 1209.1L818 1209.1Z" fill="#1c1a1a"/>
<g id="partslist">
<text x="812" y="56.5" font-size="18" text-anchor="start" font-weight="bold" textLength="51.5" lengthAdjust="spacing" style="stroke-width:0.6px">表1–1.</text>
<text x="879.8" y="56.5" font-size="18" text-anchor="start" font-weight="bold" textLength="68.5" lengthAdjust="spacing" style="stroke-width:0.7px">结构清单</text>
<text x="970.6" y="56.5" font-size="18" text-anchor="start" font-weight="bold" textLength="104.8" lengthAdjust="spacing">PARTS LIST</text>
<rect x="813.7" y="65.3" width="41.0" height="534.98" fill="#c9c9c9"/>
<text x="834.3" y="83.8" font-size="17.3" text-anchor="middle" font-weight="normal" >No.</text>
<text x="871" y="83.8" font-size="17.3" text-anchor="start" font-weight="normal" >名称 Part Name</text>
<text x="834.3" y="107.1" font-size="17.3" text-anchor="middle" font-weight="normal" >1</text>
<text x="871" y="107.1" font-size="17.3" text-anchor="start" font-weight="normal" >阀体 Body</text>
<text x="834.3" y="130.3" font-size="17.3" text-anchor="middle" font-weight="normal" >2</text>
<text x="871" y="130.3" font-size="17.3" text-anchor="start" font-weight="normal" >缠绕垫 Wound gasket</text>
<text x="834.3" y="153.6" font-size="17.3" text-anchor="middle" font-weight="normal" >3</text>
<text x="871" y="153.6" font-size="17.3" text-anchor="start" font-weight="normal" >阀座 Seat gasket</text>
<text x="834.3" y="176.8" font-size="17.3" text-anchor="middle" font-weight="normal" >4</text>
<text x="871" y="176.8" font-size="17.3" text-anchor="start" font-weight="normal" >阀芯 Plug</text>
<text x="834.3" y="200.1" font-size="17.3" text-anchor="middle" font-weight="normal" >5</text>
<text x="871" y="200.1" font-size="17.3" text-anchor="start" font-weight="normal" >套筒 Cage</text>
<text x="834.3" y="223.4" font-size="17.3" text-anchor="middle" font-weight="normal" >6</text>
<text x="871" y="223.4" font-size="17.3" text-anchor="start" font-weight="normal" >平衡密封环 Balance seal</text>
<text x="834.3" y="246.6" font-size="17.3" text-anchor="middle" font-weight="normal" >7</text>
<text x="871" y="246.6" font-size="17.3" text-anchor="start" font-weight="normal" >平衡缸 Balance cylinder</text>
<text x="834.3" y="269.9" font-size="17.3" text-anchor="middle" font-weight="normal" >8</text>
<text x="871" y="269.9" font-size="17.3" text-anchor="start" font-weight="normal" >垫圈 Bonnet gasket</text>
<text x="834.3" y="293.1" font-size="17.3" text-anchor="middle" font-weight="normal" >9</text>
<text x="871" y="293.1" font-size="17.3" text-anchor="start" font-weight="normal" >阀盖 Bonnet</text>
<text x="834.3" y="316.4" font-size="17.3" text-anchor="middle" font-weight="normal" >10</text>
<text x="871" y="316.4" font-size="17.3" text-anchor="start" font-weight="normal" >六角螺母 Nut</text>
<text x="834.3" y="339.7" font-size="17.3" text-anchor="middle" font-weight="normal" >11</text>
<text x="871" y="339.7" font-size="17.3" text-anchor="start" font-weight="normal" >阀体螺柱 Body stud bolt</text>
<text x="834.3" y="362.9" font-size="17.3" text-anchor="middle" font-weight="normal" >12</text>
<text x="871" y="362.9" font-size="17.3" text-anchor="start" font-weight="normal" >压板螺柱 Gland stud bolt</text>
<text x="834.3" y="386.2" font-size="17.3" text-anchor="middle" font-weight="normal" >13</text>
<text x="871" y="386.2" font-size="17.3" text-anchor="start" font-weight="normal" >填料压板 Gland flange</text>
<text x="834.3" y="409.4" font-size="17.3" text-anchor="middle" font-weight="normal" >14</text>
<text x="871" y="409.4" font-size="17.3" text-anchor="start" font-weight="normal" >六角螺母 Nut</text>
<text x="834.3" y="432.7" font-size="17.3" text-anchor="middle" font-weight="normal" >15</text>
<text x="871" y="432.7" font-size="17.3" text-anchor="start" font-weight="normal" >阀杆 Stem</text>
<text x="834.3" y="456.0" font-size="17.3" text-anchor="middle" font-weight="normal" >16</text>
<text x="871" y="456.0" font-size="17.3" text-anchor="start" font-weight="normal" >防尘圈 Wiper</text>
<text x="834.3" y="479.2" font-size="17.3" text-anchor="middle" font-weight="normal" >17</text>
<text x="871" y="479.2" font-size="17.3" text-anchor="start" font-weight="normal" >填料压盖 Gland ring</text>
<text x="834.3" y="502.5" font-size="17.3" text-anchor="middle" font-weight="normal" >18</text>
<text x="871" y="502.5" font-size="17.3" text-anchor="start" font-weight="normal" >填料隔套 Lantern ring</text>
<text x="834.3" y="525.7" font-size="17.3" text-anchor="middle" font-weight="normal" >19</text>
<text x="871" y="525.7" font-size="17.3" text-anchor="start" font-weight="normal" >填料 Gland packing</text>
<text x="834.3" y="549.0" font-size="17.3" text-anchor="middle" font-weight="normal" >20</text>
<text x="871" y="549.0" font-size="17.3" text-anchor="start" font-weight="normal" >填料座 Packing seat</text>
<text x="834.3" y="572.3" font-size="17.3" text-anchor="middle" font-weight="normal" >21</text>
<text x="871" y="572.3" font-size="17.3" text-anchor="start" font-weight="normal" >金属压套 Metal sleeve</text>
<text x="834.3" y="595.5" font-size="17.3" text-anchor="middle" font-weight="normal" >22</text>
<text x="871" y="595.5" font-size="17.3" text-anchor="start" font-weight="normal" >密封圈 Sealing ring</text>
<line x1="812.9000000000001" y1="65.3" x2="1076.0" y2="65.3" stroke="#333" stroke-width="1.7" />
<line x1="812.9000000000001" y1="88.6" x2="1076.0" y2="88.6" stroke="#333" stroke-width="1.7" />
<line x1="812.9000000000001" y1="111.8" x2="1076.0" y2="111.8" stroke="#333" stroke-width="1.7" />
<line x1="812.9000000000001" y1="135.1" x2="1076.0" y2="135.1" stroke="#333" stroke-width="1.7" />
<line x1="812.9000000000001" y1="158.3" x2="1076.0" y2="158.3" stroke="#333" stroke-width="1.7" />
<line x1="812.9000000000001" y1="181.6" x2="1076.0" y2="181.6" stroke="#333" stroke-width="1.7" />
<line x1="812.9000000000001" y1="204.9" x2="1076.0" y2="204.9" stroke="#333" stroke-width="1.7" />
<line x1="812.9000000000001" y1="228.1" x2="1076.0" y2="228.1" stroke="#333" stroke-width="1.7" />
<line x1="812.9000000000001" y1="251.4" x2="1076.0" y2="251.4" stroke="#333" stroke-width="1.7" />
<line x1="812.9000000000001" y1="274.6" x2="1076.0" y2="274.6" stroke="#333" stroke-width="1.7" />
<line x1="812.9000000000001" y1="297.9" x2="1076.0" y2="297.9" stroke="#333" stroke-width="1.7" />
<line x1="812.9000000000001" y1="321.2" x2="1076.0" y2="321.2" stroke="#333" stroke-width="1.7" />
<line x1="812.9000000000001" y1="344.4" x2="1076.0" y2="344.4" stroke="#333" stroke-width="1.7" />
<line x1="812.9000000000001" y1="367.7" x2="1076.0" y2="367.7" stroke="#333" stroke-width="1.7" />
<line x1="812.9000000000001" y1="390.9" x2="1076.0" y2="390.9" stroke="#333" stroke-width="1.7" />
<line x1="812.9000000000001" y1="414.2" x2="1076.0" y2="414.2" stroke="#333" stroke-width="1.7" />
<line x1="812.9000000000001" y1="437.5" x2="1076.0" y2="437.5" stroke="#333" stroke-width="1.7" />
<line x1="812.9000000000001" y1="460.7" x2="1076.0" y2="460.7" stroke="#333" stroke-width="1.7" />
<line x1="812.9000000000001" y1="484.0" x2="1076.0" y2="484.0" stroke="#333" stroke-width="1.7" />
<line x1="812.9000000000001" y1="507.2" x2="1076.0" y2="507.2" stroke="#333" stroke-width="1.7" />
<line x1="812.9000000000001" y1="530.5" x2="1076.0" y2="530.5" stroke="#333" stroke-width="1.7" />
<line x1="812.9000000000001" y1="553.8" x2="1076.0" y2="553.8" stroke="#333" stroke-width="1.7" />
<line x1="812.9000000000001" y1="577.0" x2="1076.0" y2="577.0" stroke="#333" stroke-width="1.7" />
<line x1="812.9000000000001" y1="600.3" x2="1076.0" y2="600.3" stroke="#333" stroke-width="1.7" />
<line x1="813.7" y1="65.3" x2="813.7" y2="600.28" stroke="#333" stroke-width="1.5" />
<line x1="854.7" y1="65.3" x2="854.7" y2="600.28" stroke="#333" stroke-width="1.5" />
<line x1="1075.2" y1="65.3" x2="1075.2" y2="600.28" stroke="#333" stroke-width="1.5" />
</g>
<g id="leaders" stroke-linecap="butt">
<line x1="758" y1="39.2" x2="494" y2="115" stroke="#111" stroke-width="1.5" />
<line x1="758" y1="93.8" x2="525" y2="154" stroke="#111" stroke-width="1.5" />
<line x1="758" y1="150" x2="528" y2="169" stroke="#111" stroke-width="1.5" />
<line x1="758" y1="206" x2="522" y2="191" stroke="#111" stroke-width="1.5" />
<line x1="758" y1="260" x2="624" y2="332.5" stroke="#111" stroke-width="1.5" />
<line x1="758" y1="311.3" x2="626.7" y2="344" stroke="#111" stroke-width="1.5" />
<line x1="758" y1="365.2" x2="566.4" y2="379.2" stroke="#111" stroke-width="1.5" />
<line x1="758" y1="419.2" x2="612.4" y2="407.8" stroke="#111" stroke-width="1.5" />
<line x1="758" y1="474.3" x2="580" y2="411" stroke="#111" stroke-width="1.5" />
<line x1="758" y1="528.7" x2="576" y2="458.8" stroke="#111" stroke-width="1.5" />
<line x1="758" y1="584.2" x2="559" y2="534" stroke="#111" stroke-width="1.5" />
<line x1="758" y1="637.6" x2="574.5" y2="571.8" stroke="#111" stroke-width="1.5" />
<line x1="758" y1="688" x2="543.7" y2="578.7" stroke="#111" stroke-width="1.5" />
<line x1="758" y1="743" x2="588" y2="643.8" stroke="#111" stroke-width="1.5" />
<line x1="758" y1="798" x2="579.6" y2="652.4" stroke="#111" stroke-width="1.5" />
<line x1="758" y1="851" x2="709.8" y2="798" stroke="#111" stroke-width="1.5" />
<line x1="853" y1="756.6" x2="560.8" y2="621.5" stroke="#111" stroke-width="1.5" />
<line x1="188.5" y1="499.3" x2="409" y2="530.4" stroke="#111" stroke-width="1.5" />
<line x1="315.2" y1="261.3" x2="460.2" y2="237" stroke="#111" stroke-width="1.5" />
<g clip-path="url(#blkclip)">
<line x1="758" y1="39.2" x2="494" y2="115" stroke="#fdfdfd" stroke-width="2.2" />
<line x1="758" y1="93.8" x2="525" y2="154" stroke="#fdfdfd" stroke-width="2.2" />
<line x1="758" y1="150" x2="528" y2="169" stroke="#fdfdfd" stroke-width="2.2" />
<line x1="758" y1="206" x2="522" y2="191" stroke="#fdfdfd" stroke-width="2.2" />
<line x1="758" y1="260" x2="624" y2="332.5" stroke="#fdfdfd" stroke-width="2.2" />
<line x1="758" y1="311.3" x2="626.7" y2="344" stroke="#fdfdfd" stroke-width="2.2" />
<line x1="758" y1="365.2" x2="566.4" y2="379.2" stroke="#fdfdfd" stroke-width="2.2" />
<line x1="758" y1="419.2" x2="612.4" y2="407.8" stroke="#fdfdfd" stroke-width="2.2" />
<line x1="758" y1="474.3" x2="580" y2="411" stroke="#fdfdfd" stroke-width="2.2" />
<line x1="758" y1="528.7" x2="576" y2="458.8" stroke="#fdfdfd" stroke-width="2.2" />
<line x1="758" y1="584.2" x2="559" y2="534" stroke="#fdfdfd" stroke-width="2.2" />
<line x1="758" y1="637.6" x2="574.5" y2="571.8" stroke="#fdfdfd" stroke-width="2.2" />
<line x1="758" y1="688" x2="543.7" y2="578.7" stroke="#fdfdfd" stroke-width="2.2" />
<line x1="758" y1="743" x2="588" y2="643.8" stroke="#fdfdfd" stroke-width="2.2" />
<line x1="758" y1="798" x2="579.6" y2="652.4" stroke="#fdfdfd" stroke-width="2.2" />
<line x1="758" y1="851" x2="709.8" y2="798" stroke="#fdfdfd" stroke-width="2.2" />
<line x1="853" y1="756.6" x2="560.8" y2="621.5" stroke="#fdfdfd" stroke-width="2.2" />
<line x1="188.5" y1="499.3" x2="409" y2="530.4" stroke="#fdfdfd" stroke-width="2.2" />
<line x1="315.2" y1="261.3" x2="460.2" y2="237" stroke="#fdfdfd" stroke-width="2.2" />
</g>
<line x1="161.3" y1="72.8" x2="224" y2="122" stroke="#111" stroke-width="1.5" />
<line x1="161.3" y1="160.4" x2="221" y2="158" stroke="#111" stroke-width="1.5" />
<line x1="161.3" y1="251" x2="221" y2="269.8" stroke="#111" stroke-width="1.5" />
<line x1="161.3" y1="340.5" x2="221" y2="324.7" stroke="#111" stroke-width="1.5" />
<line x1="161.3" y1="430" x2="221" y2="384.4" stroke="#111" stroke-width="1.5" />
<line x1="66.4" y1="523" x2="111.8" y2="555" stroke="#111" stroke-width="1.5" />
<line x1="66.4" y1="584.2" x2="125.9" y2="628" stroke="#111" stroke-width="1.5" />
<line x1="68.6" y1="645.8" x2="163.7" y2="627.4" stroke="#111" stroke-width="1.5" />
<line x1="66.4" y1="706.4" x2="121.5" y2="728.6" stroke="#111" stroke-width="1.5" />
<line x1="66.4" y1="766.4" x2="131.3" y2="807.5" stroke="#111" stroke-width="1.5" />
<line x1="67.5" y1="833.8" x2="166.9" y2="804.2" stroke="#111" stroke-width="1.5" />
<line x1="1038" y1="711.8" x2="870" y2="760.2" stroke="#111" stroke-width="1.5" />
<line x1="1038" y1="754.6" x2="938.6" y2="759.4" stroke="#111" stroke-width="1.5" />
<line x1="1038" y1="797.2" x2="948.4" y2="783.2" stroke="#111" stroke-width="1.5" />
<line x1="1039.4" y1="839.2" x2="941.4" y2="797.2" stroke="#111" stroke-width="1.5" />
<line x1="1036.6" y1="881.2" x2="955.4" y2="850.4" stroke="#111" stroke-width="1.5" />
</g>
<g id="balloons">
<circle cx="776" cy="39.8" r="12.2" fill="#fdfdfd" stroke="#2a2a2a" stroke-width="1.2"/><text transform="translate(775.7,47.199999999999996) scale(0.8,1)" font-size="22.5" text-anchor="middle" fill="#222" style="stroke:none" letter-spacing="-0.8">15</text>
<circle cx="776" cy="94.2" r="12.2" fill="#fdfdfd" stroke="#2a2a2a" stroke-width="1.2"/><text transform="translate(775.7,101.60000000000001) scale(0.8,1)" font-size="22.5" text-anchor="middle" fill="#222" style="stroke:none" letter-spacing="-0.8">14</text>
<circle cx="776" cy="148.9" r="12.2" fill="#fdfdfd" stroke="#2a2a2a" stroke-width="1.2"/><text transform="translate(775.7,156.3) scale(0.8,1)" font-size="22.5" text-anchor="middle" fill="#222" style="stroke:none" letter-spacing="-0.8">13</text>
<circle cx="776" cy="205.2" r="12.2" fill="#fdfdfd" stroke="#2a2a2a" stroke-width="1.2"/><text transform="translate(775.7,212.6) scale(0.8,1)" font-size="22.5" text-anchor="middle" fill="#222" style="stroke:none" letter-spacing="-0.8">12</text>
<circle cx="776" cy="257.3" r="12.2" fill="#fdfdfd" stroke="#2a2a2a" stroke-width="1.2"/><text transform="translate(775.7,264.7) scale(0.8,1)" font-size="22.5" text-anchor="middle" fill="#222" style="stroke:none" letter-spacing="-0.8">11</text>
<circle cx="776" cy="309.5" r="12.2" fill="#fdfdfd" stroke="#2a2a2a" stroke-width="1.2"/><text transform="translate(775.7,316.9) scale(0.8,1)" font-size="22.5" text-anchor="middle" fill="#222" style="stroke:none" letter-spacing="-0.8">10</text>
<circle cx="776" cy="363.9" r="12.2" fill="#fdfdfd" stroke="#2a2a2a" stroke-width="1.2"/><text x="776" y="370.7" font-size="20" text-anchor="middle" fill="#222" style="stroke:none">9</text>
<circle cx="776" cy="418.2" r="12.2" fill="#fdfdfd" stroke="#2a2a2a" stroke-width="1.2"/><text x="776" y="425.0" font-size="20" text-anchor="middle" fill="#222" style="stroke:none">8</text>
<circle cx="776" cy="472.8" r="12.2" fill="#fdfdfd" stroke="#2a2a2a" stroke-width="1.2"/><text x="776" y="479.6" font-size="20" text-anchor="middle" fill="#222" style="stroke:none">2</text>
<circle cx="776" cy="527.2" r="12.2" fill="#fdfdfd" stroke="#2a2a2a" stroke-width="1.2"/><text x="776" y="534.0" font-size="20" text-anchor="middle" fill="#222" style="stroke:none">7</text>
<circle cx="776" cy="581.6" r="12.2" fill="#fdfdfd" stroke="#2a2a2a" stroke-width="1.2"/><text x="776" y="588.4" font-size="20" text-anchor="middle" fill="#222" style="stroke:none">6</text>
<circle cx="776" cy="636" r="12.2" fill="#fdfdfd" stroke="#2a2a2a" stroke-width="1.2"/><text x="776" y="642.8" font-size="20" text-anchor="middle" fill="#222" style="stroke:none">5</text>
<circle cx="776" cy="690.6" r="12.2" fill="#fdfdfd" stroke="#2a2a2a" stroke-width="1.2"/><text x="776" y="697.4" font-size="20" text-anchor="middle" fill="#222" style="stroke:none">4</text>
<circle cx="776" cy="745" r="12.2" fill="#fdfdfd" stroke="#2a2a2a" stroke-width="1.2"/><text x="776" y="751.8" font-size="20" text-anchor="middle" fill="#222" style="stroke:none">3</text>
<circle cx="776" cy="799.6" r="12.2" fill="#fdfdfd" stroke="#2a2a2a" stroke-width="1.2"/><text x="776" y="806.4" font-size="20" text-anchor="middle" fill="#222" style="stroke:none">2</text>
<circle cx="776" cy="854" r="12.2" fill="#fdfdfd" stroke="#2a2a2a" stroke-width="1.2"/><text x="776" y="860.8" font-size="20" text-anchor="middle" fill="#222" style="stroke:none">1</text>
<circle cx="144" cy="69.6" r="12.2" fill="#fdfdfd" stroke="#2a2a2a" stroke-width="1.2"/><text transform="translate(143.7,77.0) scale(0.8,1)" font-size="22.5" text-anchor="middle" fill="#222" style="stroke:none" letter-spacing="-0.8">16</text>
<circle cx="144" cy="159.8" r="12.2" fill="#fdfdfd" stroke="#2a2a2a" stroke-width="1.2"/><text transform="translate(143.7,167.20000000000002) scale(0.8,1)" font-size="22.5" text-anchor="middle" fill="#222" style="stroke:none" letter-spacing="-0.8">17</text>
<circle cx="144" cy="251" r="12.2" fill="#fdfdfd" stroke="#2a2a2a" stroke-width="1.2"/><text transform="translate(143.7,258.4) scale(0.8,1)" font-size="22.5" text-anchor="middle" fill="#222" style="stroke:none" letter-spacing="-0.8">18</text>
<circle cx="144" cy="343" r="12.2" fill="#fdfdfd" stroke="#2a2a2a" stroke-width="1.2"/><text transform="translate(143.7,350.4) scale(0.8,1)" font-size="22.5" text-anchor="middle" fill="#222" style="stroke:none" letter-spacing="-0.8">19</text>
<circle cx="144" cy="433" r="12.2" fill="#fdfdfd" stroke="#2a2a2a" stroke-width="1.2"/><text transform="translate(143.7,440.4) scale(0.8,1)" font-size="22.5" text-anchor="middle" fill="#222" style="stroke:none" letter-spacing="-0.8">20</text>
<circle cx="51.8" cy="521" r="12.2" fill="#fdfdfd" stroke="#2a2a2a" stroke-width="1.2"/><text x="51.8" y="527.8" font-size="20" text-anchor="middle" fill="#222" style="stroke:none">7</text>
<circle cx="51.8" cy="583" r="12.2" fill="#fdfdfd" stroke="#2a2a2a" stroke-width="1.2"/><text x="51.8" y="589.8" font-size="20" text-anchor="middle" fill="#222" style="stroke:none">5</text>
<circle cx="51.8" cy="644.7" r="12.2" fill="#fdfdfd" stroke="#2a2a2a" stroke-width="1.2"/><text x="51.8" y="651.5" font-size="20" text-anchor="middle" fill="#222" style="stroke:none">4</text>
<circle cx="51.8" cy="707" r="12.2" fill="#fdfdfd" stroke="#2a2a2a" stroke-width="1.2"/><text x="51.8" y="713.8" font-size="20" text-anchor="middle" fill="#222" style="stroke:none">7</text>
<circle cx="51.8" cy="768.6" r="12.2" fill="#fdfdfd" stroke="#2a2a2a" stroke-width="1.2"/><text x="51.8" y="775.4" font-size="20" text-anchor="middle" fill="#222" style="stroke:none">5</text>
<circle cx="51.8" cy="831" r="12.2" fill="#fdfdfd" stroke="#2a2a2a" stroke-width="1.2"/><text x="51.8" y="837.8" font-size="20" text-anchor="middle" fill="#222" style="stroke:none">4</text>
<circle cx="1054.8" cy="710.4" r="12.2" fill="#fdfdfd" stroke="#2a2a2a" stroke-width="1.2"/><text x="1054.8" y="717.1999999999999" font-size="20" text-anchor="middle" fill="#222" style="stroke:none">4</text>
<circle cx="1054.8" cy="753.8" r="12.2" fill="#fdfdfd" stroke="#2a2a2a" stroke-width="1.2"/><text x="1054.8" y="760.5999999999999" font-size="20" text-anchor="middle" fill="#222" style="stroke:none">5</text>
<circle cx="1054.8" cy="798.6" r="12.2" fill="#fdfdfd" stroke="#2a2a2a" stroke-width="1.2"/><text transform="translate(1054.5,806.0) scale(0.8,1)" font-size="22.5" text-anchor="middle" fill="#222" style="stroke:none" letter-spacing="-0.8">21</text>
<circle cx="1054.8" cy="843.4" r="12.2" fill="#fdfdfd" stroke="#2a2a2a" stroke-width="1.2"/><text transform="translate(1054.5,850.8) scale(0.8,1)" font-size="22.5" text-anchor="middle" fill="#222" style="stroke:none" letter-spacing="-0.8">22</text>
<circle cx="1054.8" cy="884" r="12.2" fill="#fdfdfd" stroke="#2a2a2a" stroke-width="1.2"/><text x="1054.8" y="890.8" font-size="20" text-anchor="middle" fill="#222" style="stroke:none">3</text>
</g>
<g id="labels">
<text x="137.7" y="493" font-size="17.5" text-anchor="middle" font-weight="normal" >平衡密封环</text>
<text x="137.7" y="517" font-size="17.5" text-anchor="middle" font-weight="normal" >Balance seal</text>
<text x="137.7" y="669" font-size="17.5" text-anchor="middle" font-weight="normal" >普通型*</text>
<text x="137.7" y="693.5" font-size="17.5" text-anchor="middle" font-weight="normal" >Standard</text>
<text x="137.7" y="847" font-size="17.5" text-anchor="middle" font-weight="normal" >高温型</text>
<text x="137.7" y="870.5" font-size="17.5" text-anchor="middle" font-weight="normal" >High temperature</text>
<text x="76" y="900.5" font-size="17.5" text-anchor="start" font-weight="normal" >*密封圈开口朝向:介质流体高压侧</text>
<text x="357" y="900.5" font-size="17.5" text-anchor="start" font-weight="normal" >Sealing ring opening direction: High pressure side</text>
<text x="928.8" y="923.5" font-size="17.5" text-anchor="middle" font-weight="normal" >软密封阀座</text>
<text x="928.8" y="947" font-size="17.5" text-anchor="middle" font-weight="normal" >Soft seat</text>
<text x="70" y="962.5" font-size="17.5" text-anchor="start" font-weight="bold" style="stroke-width:0.7px">套筒部构造</text>
<text x="70" y="986" font-size="17.5" text-anchor="start" font-weight="bold" >CAGE STRUCTURE</text>
<text x="269.8" y="1279" font-size="17.5" text-anchor="middle" font-weight="normal" >GC320</text>
<text x="269.8" y="1303" font-size="17.5" text-anchor="middle" font-weight="normal" >迷宫式套筒</text>
<text x="269.8" y="1327" font-size="17.5" text-anchor="middle" font-weight="normal" >Multi-Stage type</text>
<text x="819" y="1257.5" font-size="17.5" text-anchor="middle" font-weight="normal" >8级降压套筒</text>
<text x="819" y="1280.5" font-size="17.5" text-anchor="middle" font-weight="normal" >局部剖视</text>
<text x="819" y="1304" font-size="17.5" text-anchor="middle" font-weight="normal" >8-Stage Cage</text>
<text x="819" y="1327" font-size="17.5" text-anchor="middle" font-weight="normal" >Part Sectioned View</text>
<text x="18" y="1363" font-size="12" text-anchor="middle" font-weight="normal" >.</text>
</g>
</svg>
</body>
</html>
